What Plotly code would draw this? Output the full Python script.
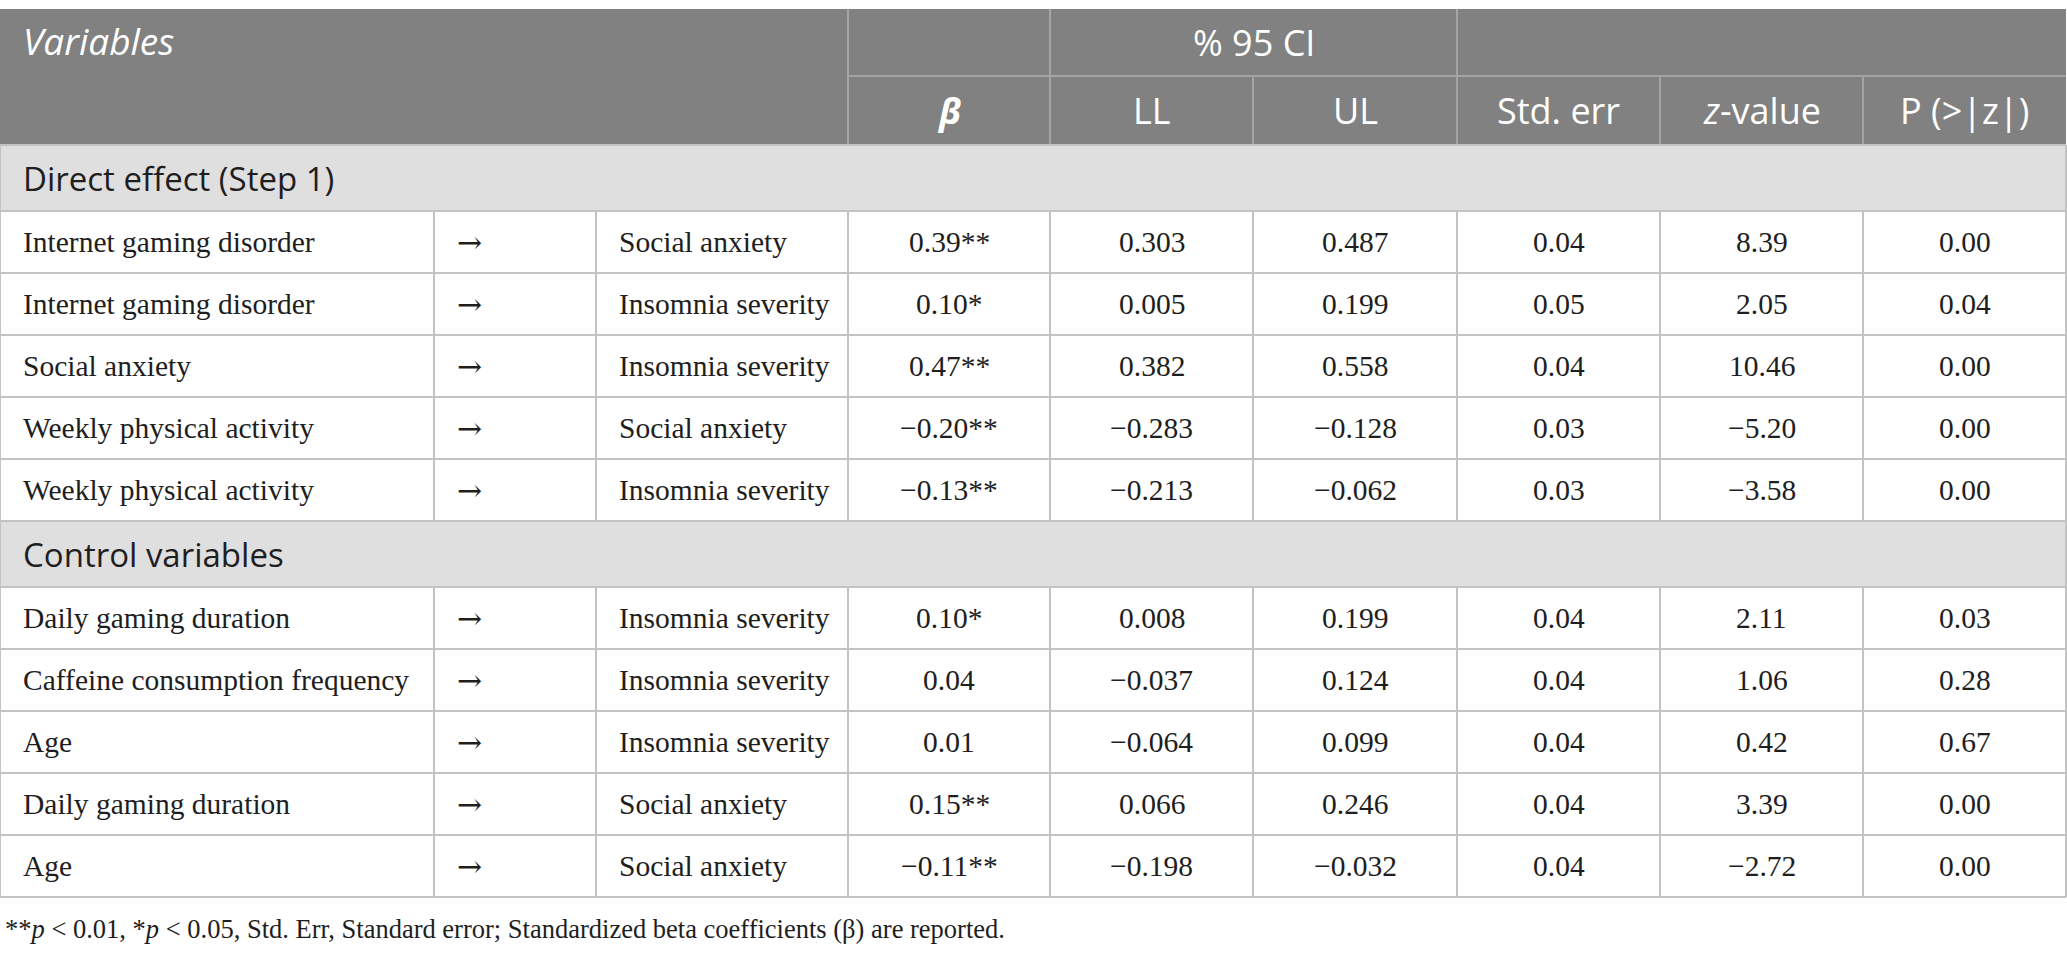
import plotly.graph_objects as go

# table content
section_titles = ["Direct effect (Step 1)", "Control variables"]

predictors_1 = ["Internet gaming disorder", "Internet gaming disorder", "Social anxiety",
                "Weekly physical activity", "Weekly physical activity"]
outcomes_1 = ["Social anxiety", "Insomnia severity", "Insomnia severity",
              "Social anxiety", "Insomnia severity"]
beta_1 = [0.39, 0.10, 0.47, -0.20, -0.13]
stars_1 = ["**", "*", "**", "**", "**"]
ll_1 = [0.303, 0.005, 0.382, -0.283, -0.213]
ul_1 = [0.487, 0.199, 0.558, -0.128, -0.062]
se_1 = [0.04, 0.05, 0.04, 0.03, 0.03]
z_1 = [8.39, 2.05, 10.46, -5.20, -3.58]
p_1 = [0.00, 0.04, 0.00, 0.00, 0.00]

predictors_2 = ["Daily gaming duration", "Caffeine consumption frequency", "Age",
                "Daily gaming duration", "Age"]
outcomes_2 = ["Insomnia severity", "Insomnia severity", "Insomnia severity",
              "Social anxiety", "Social anxiety"]
beta_2 = [0.10, 0.04, 0.01, 0.15, -0.11]
stars_2 = ["*", "", "", "**", "**"]
ll_2 = [0.008, -0.037, -0.064, 0.066, -0.198]
ul_2 = [0.199, 0.124, 0.099, 0.246, -0.032]
se_2 = [0.04, 0.04, 0.04, 0.04, 0.04]
z_2 = [2.11, 1.06, 0.42, 3.39, -2.72]
p_2 = [0.03, 0.28, 0.67, 0.00, 0.00]

header_top = ["Variables", "% 95 CI"]
header_cols = ["<b><i>β</i></b>", "LL", "UL", "Std. err", "<i>z</i>-value", "P (>|z|)"]
footnote = ("**<i>p</i> &lt; 0.01, *<i>p</i> &lt; 0.05, Std. Err, Standard error; "
            "Standardized beta coefficients (β) are reported.")

# layout (pixels)
W, H = 2067, 955
cols = [0, 434, 596, 848, 1050, 1253, 1457, 1660, 1863, 2066]
top = 9
h_head1, h_head2, h_sec, h_row = 67, 69, 66, 62

HEAD_BG = "#808180"
HEAD_LINE = "#a3a4a3"
SEC_BG = "#e0dfe0"
GRID = "#c3c3c3"
TXT = "#1e1e1e"
SANS = "Open Sans"
SERIF = "Liberation Serif"


def fmt(v, d):
    s = f"{v:.{d}f}"
    return s.replace("-", "\u2212")


shapes = []
annotations = []


def rect(x0, x1, y0, y1, color):
    shapes.append(dict(type="rect", xref="x", yref="y", x0=x0, x1=x1, y0=y0, y1=y1,
                       fillcolor=color, line=dict(width=0), layer="below"))


def line(x0, x1, y0, y1, color, w=2):
    shapes.append(dict(type="line", xref="x", yref="y", x0=x0, x1=x1, y0=y0, y1=y1,
                       line=dict(color=color, width=w)))


def text(x, y, s, size, color, family, anchor="center"):
    annotations.append(dict(x=x, y=y, xref="x", yref="y", text=s, showarrow=False,
                            xanchor=anchor, yanchor="middle",
                            font=dict(size=size, color=color, family=family)))


def mid(i):
    return (cols[i] + cols[i + 1]) / 2


# header
y0 = top
y1 = y0 + h_head1
y2 = y1 + h_head2
rect(cols[0], cols[-1], y0, y2, HEAD_BG)
line(cols[3], cols[-1], y1, y1, HEAD_LINE)
for c in [cols[3], cols[4], cols[6]]:
    line(c, c, y0, y2, HEAD_LINE)
for c in cols[5:-1]:
    if c != cols[6]:
        line(c, c, y1, y2, HEAD_LINE)
text(21, (y0 + y1) / 2 - 2, "<i>" + header_top[0] + "</i>", 37, "white", SANS, "left")
text((cols[4] + cols[6]) / 2, (y0 + y1) / 2, header_top[1], 36, "white", SANS)
for i, lab in enumerate(header_cols):
    text(mid(i + 3), (y1 + y2) / 2, lab, 36, "white", SANS)

# body sections
sections = [
    (section_titles[0], predictors_1, outcomes_1, beta_1, stars_1, ll_1, ul_1, se_1, z_1, p_1),
    (section_titles[1], predictors_2, outcomes_2, beta_2, stars_2, ll_2, ul_2, se_2, z_2, p_2),
]
y = y2
for title, preds, outs, beta, stars, ll, ul, se, zv, pv in sections:
    rect(cols[0], cols[-1], y, y + h_sec, SEC_BG)
    text(21, y + h_sec / 2, title, 33, TXT, SANS, "left")
    line(cols[0], cols[-1], y, y, GRID)
    line(cols[0], cols[0], y, y + h_sec, GRID)
    line(cols[-1], cols[-1], y, y + h_sec, GRID)
    y += h_sec
    for k in range(len(preds)):
        ya, yb = y, y + h_row
        line(cols[0], cols[-1], ya, ya, GRID)
        for c in cols:
            line(c, c, ya, yb, GRID)
        yc = (ya + yb) / 2
        text(cols[0] + 21, yc, preds[k], 29.5, TXT, SERIF, "left")
        text(cols[1] + 21, yc, "\u2192", 30, TXT, "DejaVu Serif", "left")
        text(cols[2] + 21, yc, outs[k], 29.5, TXT, SERIF, "left")
        vals = [fmt(beta[k], 2) + stars[k], fmt(ll[k], 3), fmt(ul[k], 3),
                fmt(se[k], 2), fmt(zv[k], 2), fmt(pv[k], 2)]
        for i, v in enumerate(vals):
            text(mid(i + 3), yc, v, 29.5, TXT, SERIF)
        y = yb
line(cols[0], cols[-1], y, y, GRID)

text(3, y + 32, footnote, 26.5, TXT, SERIF, "left")

fig = go.Figure()
fig.update_layout(
    width=W, height=H,
    margin=dict(l=0, r=0, t=0, b=0),
    paper_bgcolor="white", plot_bgcolor="white",
    xaxis=dict(range=[0, W], visible=False, fixedrange=True),
    yaxis=dict(range=[H, 0], visible=False, fixedrange=True),
    shapes=shapes, annotations=annotations,
    showlegend=False,
)
fig.write_html("out.html", config={"displayModeBar": False},
               post_script="document.body.style.margin='0';document.body.style.overflow='hidden';")
